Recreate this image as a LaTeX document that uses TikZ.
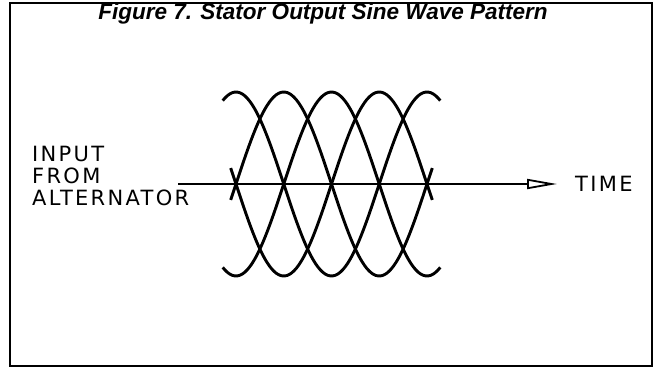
\documentclass[tikz,border=0pt]{standalone}
\usepackage{fontspec}
\usepackage{tikz}
\usetikzlibrary{positioning}
\usetikzlibrary{arrows.meta}
\newfontfamily\titlefont{Liberation Sans}
\newfontfamily\plotfont[LetterSpace=11]{DejaVu Sans}

\begin{document}
\begin{tikzpicture}[x=1pt, y=-1pt,
    wave/.style={line width=2.9pt, smooth, samples=90},
    plotlabel/.style={font=\plotfont\fontsize{21}{22}\selectfont, inner sep=0pt}]
    \useasboundingbox (0,0) rectangle (655,369);

    % frame and title
    \draw[line width=2.4pt] (10,3) rectangle (652,366);
    \node[font=\titlefont\bfseries\itshape\fontsize{22.5}{24}\selectfont, anchor=base, inner sep=0pt] (title) at (323,19.5) {Figure 7. Stator Output Sine Wave Pattern};

    % time axis
    \coordinate (axisstart) at (178,184);
    \coordinate (axisend) at (557,184);
    \node[plotlabel, right=18pt of axisend] (time) {TIME};
    \node[plotlabel, align=left, anchor=west] (input) at (32,176) {INPUT\\FROM\\ALTERNATOR};
    \draw[line width=1.6pt, -{Triangle[open, length=30pt, width=10pt, line width=1.8pt]}] (axisstart) -- (axisend);

    % four phases
    \foreach \ph/\lo/\hi in {0/-25/385, 90/-10/370, 180/-25/385, 270/-10/370}
      \draw[wave] plot[domain=\lo:\hi] ({236+\x/360*191}, {184-92*cos(\x-\ph)});
\end{tikzpicture}
\end{document}
